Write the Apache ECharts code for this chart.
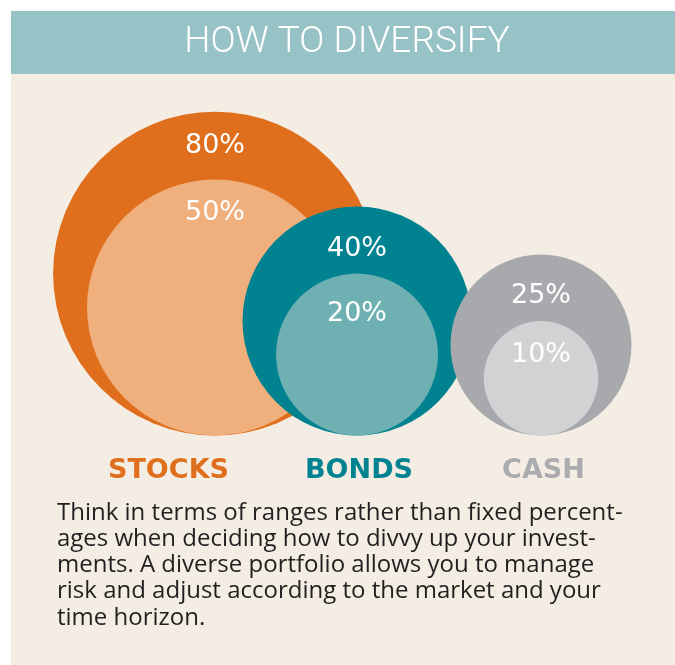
<!DOCTYPE html>
<html>
<head>
<meta charset="utf-8">
<script src="https://cdn.jsdelivr.net/npm/echarts@6/dist/echarts.min.js"></script>
<style>
html,body{margin:0;padding:0;background:#ffffff;}
#chart{width:675px;height:665px;}
</style>
</head>
<body>
<div id="chart"></div>
<script>
// ---- data ----
const titleText = 'HOW TO DIVERSIFY';
const categories = ['STOCKS', 'BONDS', 'CASH'];
const upperRange = [80, 40, 25];   // outer circles (%)
const lowerRange = [50, 20, 10];   // inner circles (%)
const bodyLines = [
  'Think in terms of ranges rather than fixed percent-',
  'ages when deciding how to divvy up your invest-',
  'ments. A diverse portfolio allows you to manage',
  'risk and adjust according to the market and your',
  'time horizon.'
];

// ---- layout / style ----
const W = 675, H = 665;
const circleX = [215, 357, 541];          // circle centres (px == axis units)
const labelX = [168.5, 359, 543.5];       // category label centres
const baseY = H - 435.5;                  // common bottom line of circles (axis units)
const K = 18.1;                           // radius = K * sqrt(value)
const outerColors = ['#e06f1d', '#008290', '#a8a9ad'];
const innerColors = ['#f0b07e', '#6fb0b2', '#d1d2d4'];
const catColors = ['#e06f1d', '#008290', '#abacb0'];
const outerLabelDist = [21, 29, 28];
const innerLabelDist = [20, 27, 20];

const chart = echarts.init(document.getElementById('chart'), null, {renderer: 'canvas'});

const series = categories.map((c, i) => ({
  type: 'scatter',
  name: c,
  z: 2 + i,
  silent: true,
  symbol: 'circle',
  symbolSize: v => 2 * K * Math.sqrt(v[2]),
  symbolOffset: [0, '-50%'],
  label: {
    show: true,
    position: 'insideTop',
    color: '#ffffff',
    fontFamily: 'DejaVu Sans',
    fontSize: 27,
    formatter: p => p.value[2] + '%'
  },
  data: [
    {value: [circleX[i], baseY, upperRange[i]], itemStyle: {color: outerColors[i], opacity: 1}, label: {distance: outerLabelDist[i]}},
    {value: [circleX[i], baseY, lowerRange[i]], itemStyle: {color: innerColors[i], opacity: 1}, label: {distance: innerLabelDist[i]}}
  ]
}));

const graphics = [
  {type: 'rect', z: -10, shape: {x: 11, y: 11, width: W - 11, height: H - 11}, style: {fill: '#f3ede3'}},
  {type: 'rect', z: -9, shape: {x: 11, y: 11, width: W - 11, height: 63}, style: {fill: '#97c3c6'}},
  {type: 'text', z: 10, x: 347, y: 43, style: {text: titleText, fill: '#ffffff', font: '300 37px Roboto', textAlign: 'center', textVerticalAlign: 'middle'}}
];
categories.forEach((c, i) => {
  graphics.push({type: 'text', z: 10, x: labelX[i], y: 471, style: {text: c, fill: catColors[i], font: 'bold 27px "DejaVu Sans"', textAlign: 'center', textVerticalAlign: 'middle'}});
});
bodyLines.forEach((t, i) => {
  graphics.push({type: 'text', z: 10, x: 57, y: 513 + i * 26.2, style: {text: t, fill: '#231f20', font: '24px "Open Sans"', textAlign: 'left', textVerticalAlign: 'middle'}});
});

chart.setOption({
  animation: false,
  backgroundColor: '#ffffff',
  grid: {left: 0, right: 0, top: 0, bottom: 0},
  xAxis: {type: 'value', min: 0, max: W, show: false},
  yAxis: {type: 'value', min: 0, max: H, show: false},
  graphic: graphics,
  series: series
});
</script>
</body>
</html>
